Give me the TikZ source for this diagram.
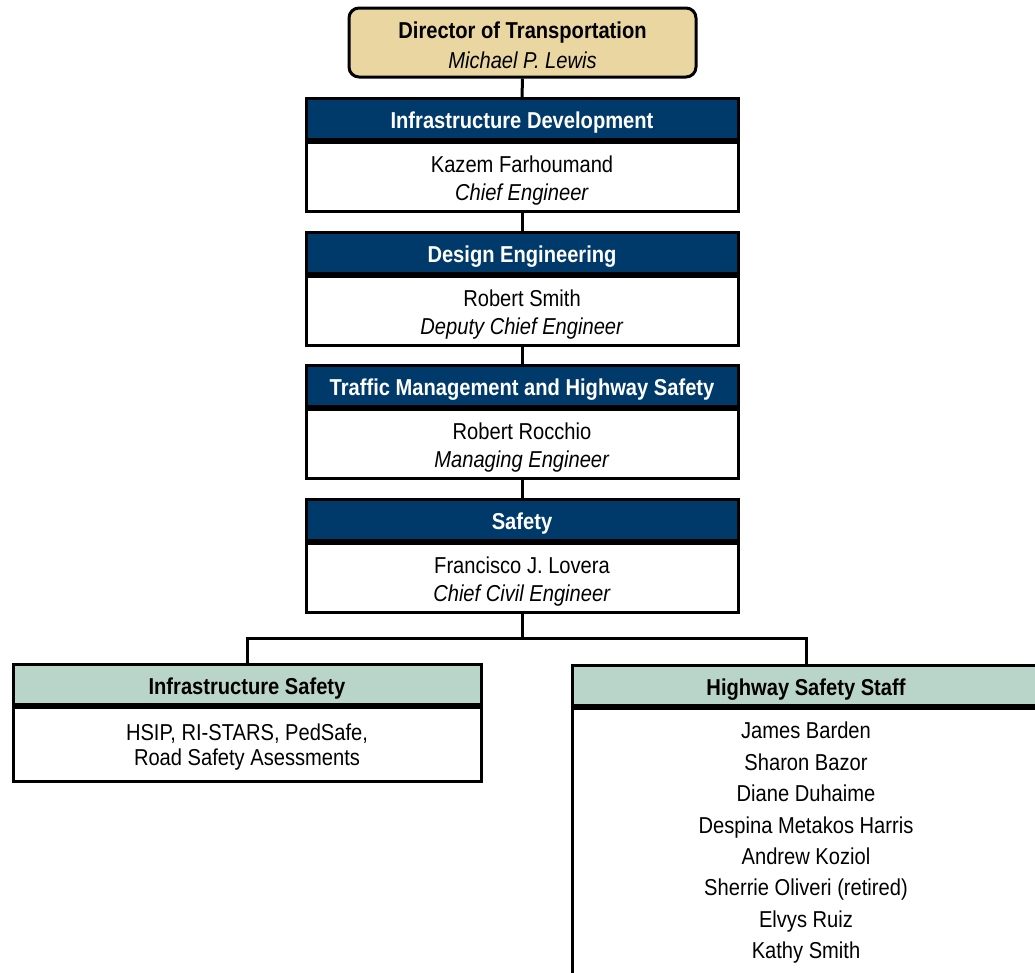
\documentclass[tikz,border=0pt]{standalone}
\usepackage{fontspec}
\setmainfont{Liberation Sans}[FakeStretch=0.875]
\definecolor{navy}{HTML}{003A6B}
\definecolor{tan}{HTML}{E9D6A0}
\definecolor{mint}{HTML}{B9D5C9}
\tikzset{
  box/.style={draw=black, line width=3pt, inner sep=0pt, anchor=north},
  hdr/.style={box, fill=navy, minimum width=432pt, minimum height=41pt},
  bodybox/.style={box, fill=white, minimum width=432pt, minimum height=69pt},
  subhdr/.style={box, fill=mint, minimum width=468pt, minimum height=40pt},
  subbody/.style={box, fill=white, minimum width=468pt},
  txt/.style={inner sep=0pt, align=center, font=\fontsize{23}{28}\selectfont},
  hdrtxt/.style={txt, text=white, font=\fontsize{23}{28}\selectfont\bfseries},
  subtxt/.style={txt, text=black, font=\fontsize{23}{28}\selectfont\bfseries},
  link/.style={draw=black, line width=3pt},
}
\begin{document}
\begin{tikzpicture}[x=1pt,y=-1pt]
\useasboundingbox (0,0) rectangle (1035,972);
\clip (0,0) rectangle (1035,972);
% director
\node[box, fill=tan, rounded corners=10pt, minimum width=347pt, minimum height=69pt, anchor=center] (dir) at (522.5,42.5) {};
\node[txt, font=\fontsize{23}{30}\selectfont] (dirt) at ([yshift=-3pt]dir.center)
  {\textbf{Director of Transportation}\\\textit{Michael P. Lewis}};
% infrastructure development
\node[hdr] (idh) at (522,97) {};
\node[hdrtxt] at ([yshift=-4pt]idh.center) {Infrastructure Development};
\node[bodybox] (idb) at (idh.south) {};
\node[txt] at ([yshift=-4pt]idb.center) {Kazem Farhoumand\\\textit{Chief Engineer}};
% design engineering
\node[hdr] (deh) at (522,231) {};
\node[hdrtxt] at ([yshift=-4pt]deh.center) {Design Engineering};
\node[bodybox] (deb) at (deh.south) {};
\node[txt] at ([yshift=-4pt]deb.center) {Robert Smith\\\textit{Deputy Chief Engineer}};
% traffic
\node[hdr] (tmh) at (522,364) {};
\node[hdrtxt] at ([yshift=-4pt]tmh.center) {Traffic Management and Highway Safety};
\node[bodybox] (tmb) at (tmh.south) {};
\node[txt] at ([yshift=-4pt]tmb.center) {Robert Rocchio\\\textit{Managing Engineer}};
% safety
\node[hdr] (sfh) at (522,498) {};
\node[hdrtxt] at ([yshift=-4pt]sfh.center) {Safety};
\node[bodybox] (sfb) at (sfh.south) {};
\node[txt] at ([yshift=-4pt]sfb.center) {Francisco J. Lovera\\\textit{Chief Civil Engineer}};
% infrastructure safety
\node[subhdr] (ish) at (247,663) {};
\node[subtxt] at ([yshift=-4pt]ish.center) {Infrastructure Safety};
\node[subbody, minimum height=74pt] (isb) at (ish.south) {};
\node[txt, font=\fontsize{23}{25}\selectfont] at ([yshift=-3pt]isb.center) {HSIP, RI-STARS, PedSafe,\\Road Safety Asessments};
% highway safety staff
\node[subhdr] (hsh) at (806,664) {};
\node[subtxt] at ([yshift=-4pt]hsh.center) {Highway Safety Staff};
\node[subbody, minimum height=330pt] (hsb) at (hsh.south) {};
\node[txt, anchor=north, font=\fontsize{23}{31.4}\selectfont] (staff) at (806,722)
  {James Barden\\Sharon Bazor\\Diane Duhaime\\Despina Metakos Harris\\Andrew Koziol\\Sherrie Oliveri (retired)\\Elvys Ruiz\\Kathy Smith};
% connectors
\draw[link] (dir.south) -- (idh.north);
\draw[link] (idb.south) -- (deh.north);
\draw[link] (deb.south) -- (tmh.north);
\draw[link] (tmb.south) -- (sfh.north);
\coordinate (split) at (522,638);
\draw[link] (sfb.south) -- (split);
\draw[link] (ish.north) |- (split) -| (hsh.north);
\end{tikzpicture}
\end{document}
